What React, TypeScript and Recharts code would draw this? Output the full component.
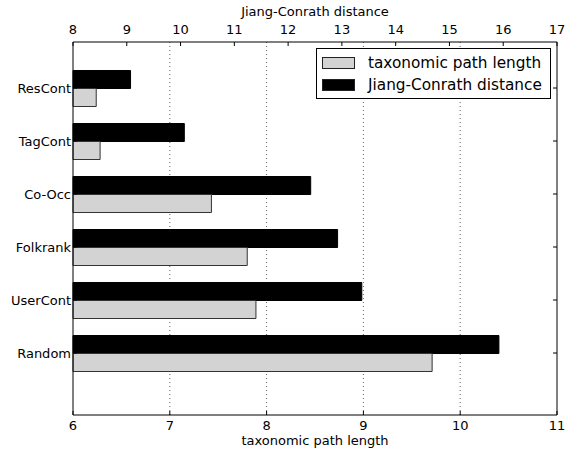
import { BarChart, Bar, XAxis, YAxis, CartesianGrid, Legend } from 'recharts';

const categories = ['ResCont', 'TagCont', 'Co-Occ', 'Folkrank', 'UserCont', 'Random'];
const taxonomicPath = [6.24, 6.28, 7.43, 7.8, 7.89, 9.71];
const jiangConrath = [9.07, 10.07, 12.42, 12.92, 13.37, 15.92];
const bottomTicks = [6, 7, 8, 9, 10, 11];
const topTicks = [8, 9, 10, 11, 12, 13, 14, 15, 16, 17];

const data = categories.map((name, i) => ({
    name,
    taxonomic: taxonomicPath[i],
    jiang: jiangConrath[i],
}));

const FONT = '"DejaVu Sans", sans-serif';
const tickStyle = { fill: '#000', fontSize: 13, fontFamily: FONT };

const legendItems = [
    { label: 'taxonomic path length', fill: '#d3d3d3' },
    { label: 'Jiang-Conrath distance', fill: '#000' },
];

const renderLegend = () => (
    <div
        style={{
            border: '1px solid #000',
            background: '#fff',
            boxSizing: 'border-box',
            width: 235,
            height: 51,
            paddingTop: 3,
            fontFamily: FONT,
            fontSize: 15.3,
            color: '#000',
        }}
    >
        {legendItems.map((item) => (
            <div key={item.label} style={{ display: 'flex', alignItems: 'center', height: 22 }}>
                <span
                    style={{
                        display: 'inline-block',
                        width: 31,
                        height: 10,
                        marginLeft: 5,
                        marginRight: 13,
                        background: item.fill,
                        border: '1px solid #222',
                    }}
                />
                <span style={{ whiteSpace: 'nowrap' }}>{item.label}</span>
            </div>
        ))}
    </div>
);

export default function App() {
    return (
        <div style={{ width: 566, height: 452 }}>
            <style>{'body{margin:0}'}</style>
            <BarChart
                width={566}
                height={452}
                data={data}
                layout="vertical"
                margin={{ top: 0, right: 0, bottom: 0, left: 0 }}
                barSize={18}
                barGap={0}
                style={{ fontFamily: FONT }}
            >
                <CartesianGrid
                    xAxisId="bottom"
                    yAxisId="left"
                    horizontal={false}
                    stroke="#666"
                    strokeDasharray="1 3"
                    verticalValues={[7, 8, 9, 10]}
                />
                <XAxis
                    xAxisId="bottom"
                    type="number"
                    orientation="bottom"
                    domain={[6, 11]}
                    ticks={bottomTicks}
                    interval={0}
                    height={37}
                    stroke="#000"
                    tickSize={-4}
                    tickMargin={10}
                    tick={tickStyle}
                    tickLine={{ stroke: '#000' }}
                    label={{ value: 'taxonomic path length', position: 'insideBottom', offset: 7, fill: '#000', fontSize: 13 }}
                />
                <XAxis
                    xAxisId="top"
                    type="number"
                    orientation="top"
                    domain={[8, 17]}
                    ticks={topTicks}
                    interval={0}
                    height={42}
                    stroke="#000"
                    tickSize={-4}
                    tickMargin={12}
                    tick={tickStyle}
                    tickLine={{ stroke: '#000' }}
                    label={{ value: 'Jiang-Conrath distance', position: 'insideTop', offset: 7, fill: '#000', fontSize: 13 }}
                />
                <YAxis
                    yAxisId="left"
                    type="category"
                    dataKey="name"
                    width={73}
                    padding={{ top: 19.5, bottom: 35.5 }}
                    stroke="#000"
                    tickSize={-4}
                    tickMargin={6}
                    tick={tickStyle}
                    tickLine={{ stroke: '#000' }}
                    interval={0}
                />
                <YAxis
                    yAxisId="right"
                    type="category"
                    dataKey="name"
                    orientation="right"
                    width={9}
                    padding={{ top: 19.5, bottom: 35.5 }}
                    stroke="#000"
                    tickSize={-4}
                    tickFormatter={() => ''}
                    tickLine={{ stroke: '#000' }}
                    interval={0}
                />
                <Legend
                    layout="vertical"
                    align="center"
                    verticalAlign="middle"
                    content={renderLegend}
                    wrapperStyle={{ left: 316, top: 48, width: 235, height: 51 }}
                />
                <Bar
                    dataKey="jiang"
                    name="Jiang-Conrath distance"
                    xAxisId="top"
                    yAxisId="left"
                    fill="#000"
                    stroke="#000"
                    strokeWidth={1}
                    isAnimationActive={false}
                />
                <Bar
                    dataKey="taxonomic"
                    name="taxonomic path length"
                    xAxisId="bottom"
                    yAxisId="left"
                    fill="#d3d3d3"
                    stroke="#333"
                    strokeWidth={1}
                    isAnimationActive={false}
                />
            </BarChart>
        </div>
    );
}
